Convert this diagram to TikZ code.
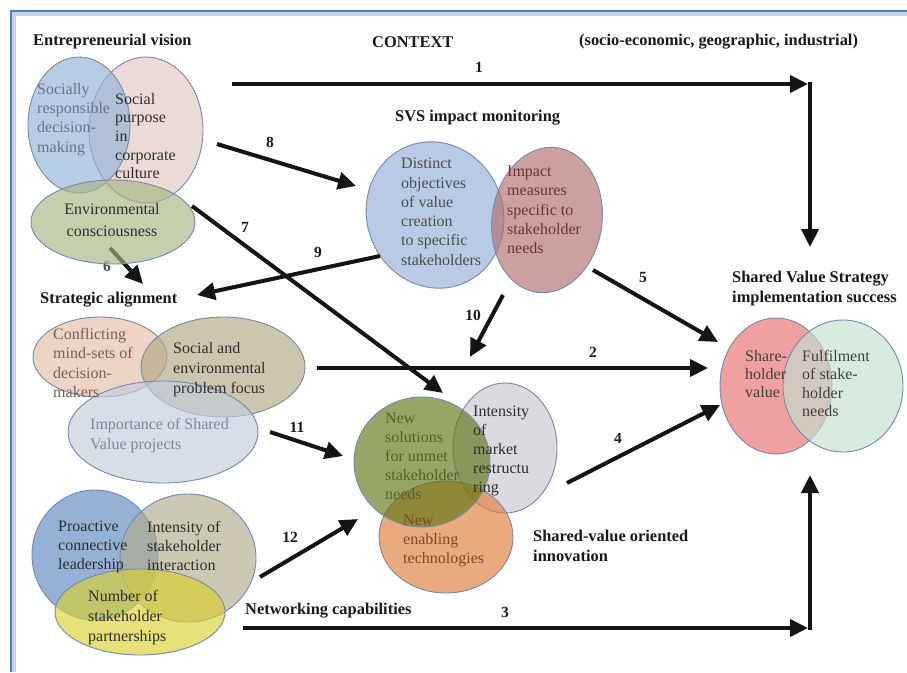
\documentclass[tikz,border=0pt]{standalone}
\usepackage{fontspec}
\setmainfont{Liberation Serif}
\usetikzlibrary{shapes.geometric,arrows.meta}

% frame
\definecolor{framedark}{HTML}{4F7DB8}
\definecolor{framelight}{HTML}{C3D6EC}
% ellipse outline
\definecolor{vennline}{HTML}{7489AC}
% ellipse fills (used with fill opacity)
\definecolor{evblue}{HTML}{92B2D6}
\definecolor{evpink}{HTML}{E2C6C0}
\definecolor{evgreen}{HTML}{A6B683}
\definecolor{svsblue}{HTML}{94AFD6}
\definecolor{svsrose}{HTML}{B26D6D}
\definecolor{sapeach}{HTML}{E5BDA5}
\definecolor{satan}{HTML}{B2A884}
\definecolor{sagrey}{HTML}{C2CDDC}
\definecolor{svred}{HTML}{E86D6D}
\definecolor{svmint}{HTML}{C2E1CD}
\definecolor{inolive}{HTML}{5F7514}
\definecolor{ingrey}{HTML}{C6C6D0}
\definecolor{inorange}{HTML}{E17D37}
\definecolor{ncblue}{HTML}{5C88C0}
\definecolor{nctan}{HTML}{B2AA8C}
\definecolor{ncyellow}{HTML}{D9D130}
% text colours
\definecolor{txtdark}{HTML}{2E2E2E}
\definecolor{txtgreyblue}{HTML}{6B7385}
\definecolor{txtbrown}{HTML}{7A6055}
\definecolor{txtgrey}{HTML}{7C8898}
\definecolor{txtrose}{HTML}{6A3535}
\definecolor{txtolive}{HTML}{56602A}
\definecolor{txtrust}{HTML}{7A4A25}

\begin{document}
\begin{tikzpicture}[x=1pt,y=-1pt,
  venn/.style={ellipse, draw=vennline, line width=0.9pt, fill opacity=0.65, inner sep=0pt},
  body/.style={font=\fontsize{16}{19.3}\selectfont, align=left, anchor=north west, inner sep=0pt, text=#1},
  body/.default=txtdark,
  head/.style={font=\fontsize{16.4}{19.5}\selectfont\bfseries, align=left, anchor=west, inner sep=0pt, text=black!90},
  num/.style={font=\fontsize{15.5}{18}\selectfont\bfseries, inner sep=0pt, text=black!90},
  flow/.style={line width=4pt, draw=black!92, -{Triangle[length=18pt,width=17pt]}},
]
\useasboundingbox (0,0) rectangle (907,672);

% window frame on top and left
\draw[framelight, line width=6pt] (907,13) -- (13,13) -- (13,672);
\draw[framedark, line width=2.6pt] (907,11) -- (11,11) -- (11,672);

% link 6 starts inside the environmental ellipse, so it goes underneath
\coordinate (a6s) at (110,248);
\coordinate (a6e) at (143,284);
\draw[flow] (a6s) -- (a6e);
\node[num, text=black!70] (n6) at (107,266) {6};

% ---------- Entrepreneurial vision ----------
\node[venn, fill=evpink, minimum width=114pt, minimum height=146pt] (ev2) at (146,130) {};
\node[venn, fill=evblue, minimum width=102pt, minimum height=136pt] (ev1) at (79,125) {};
\node[venn, fill=evgreen, minimum width=164pt, minimum height=84pt] (ev3) at (113,222) {};
\node[body=txtgreyblue] (t-ev1) at (37,83) {Socially\\responsible\\decision-\\making};
\node[body, font=\fontsize{16}{18.6}\selectfont] (t-ev2) at (115,93) {Social\\purpose\\in\\corporate\\culture};
\node[body, align=center, anchor=north, font=\fontsize{16}{22}\selectfont] (t-ev3) at (112,203) {Environmental\\consciousness};

% ---------- SVS impact monitoring ----------
\node[venn, fill=svsblue, minimum width=136pt, minimum height=148pt, rotate=22] (svs1) at (435,215) {};
\node[venn, fill=svsrose, minimum width=110pt, minimum height=146pt, rotate=-8] (svs2) at (547,220) {};
\node[body=black!70] (t-svs1) at (401,158) {Distinct\\objectives\\of value\\creation\\to specific\\stakeholders};
\node[body=txtrose] (t-svs2) at (507,166) {Impact\\measures\\specific to\\stakeholder\\needs};

% ---------- Strategic alignment ----------
\node[venn, fill=sapeach, minimum width=134pt, minimum height=80pt] (sa1) at (100,357) {};
\node[venn, fill=satan, minimum width=164pt, minimum height=100pt] (sa2) at (223,367) {};
\node[venn, fill=sagrey, minimum width=190pt, minimum height=102pt] (sa3) at (163,432) {};
\node[body=txtbrown] (t-sa1) at (53,328) {Conflicting\\mind-sets of\\decision-\\makers};
\node[body, font=\fontsize{16}{20}\selectfont] (t-sa2) at (173,342) {Social and\\environmental\\problem focus};
\node[body=txtgrey, font=\fontsize{16}{20}\selectfont] (t-sa3) at (90,418) {Importance of Shared\\Value projects};

% ---------- Shared Value Strategy implementation success ----------
\node[venn, fill=svred, minimum width=112pt, minimum height=136pt] (sv1) at (776,386) {};
\node[venn, fill=svmint, minimum width=120pt, minimum height=132pt] (sv2) at (843,386) {};
\node[body=black!75, font=\fontsize{16}{18.2}\selectfont] (t-sv1) at (745,350) {Share-\\holder\\value};
\node[body=black!75, font=\fontsize{16}{18.5}\selectfont] (t-sv2) at (802,350) {Fulfilment\\of stake-\\holder\\needs};

% ---------- Shared-value oriented innovation ----------
\node[venn, fill=ingrey, minimum width=104pt, minimum height=130pt] (in2) at (505,448) {};
\node[venn, fill=inorange, minimum width=134pt, minimum height=112pt] (in3) at (446,537) {};
\node[venn, fill=inolive, minimum width=136pt, minimum height=130pt] (in1) at (422,462) {};
\node[body=txtolive, font=\fontsize{16}{19}\selectfont] (t-in1) at (385,413) {New\\solutions\\for unmet\\stakeholder\\needs};
\node[body, font=\fontsize{16}{19}\selectfont] (t-in2) at (473,406) {Intensity\\of\\market\\restructu\\ring};
\node[body=txtrust, font=\fontsize{16}{19}\selectfont] (t-in3) at (403,515) {New\\enabling\\technologies};

% ---------- Networking capabilities ----------
\node[venn, fill=ncblue, minimum width=126pt, minimum height=130pt] (nc1) at (95,555) {};
\node[venn, fill=nctan, minimum width=136pt, minimum height=128pt] (nc2) at (188,558) {};
\node[venn, fill=ncyellow, minimum width=170pt, minimum height=86pt] (nc3) at (140,612) {};
\node[body, font=\fontsize{16}{19}\selectfont] (t-nc1) at (58,521) {Proactive\\connective\\leadership};
\node[body, font=\fontsize{16}{19}\selectfont] (t-nc2) at (147,521) {Intensity of\\stakeholder\\interaction};
\node[body, font=\fontsize{16}{20}\selectfont] (t-nc3) at (88,590) {Number of\\stakeholder\\partnerships};

% ---------- headings ----------
\node[head] (h-ev) at (33,42) {Entrepreneurial vision};
\node[head] (h-ctx) at (372,42) {CONTEXT};
\node[head] (h-ctx2) at (579,42) {(socio-economic, geographic, industrial)};
\node[head] (h-svs) at (395,118) {SVS impact monitoring};
\node[head] (h-sa) at (40,300) {Strategic alignment};
\node[head, anchor=north west] (h-sv) at (732,271) {Shared Value Strategy\\implementation success};
\node[head, anchor=north west, font=\fontsize{16.4}{20}\selectfont\bfseries] (h-in) at (533,530) {Shared-value oriented\\innovation};
\node[head] (h-nc) at (245,611) {Networking capabilities};

% ---------- links ----------
\coordinate (a1s) at (232,84);
\coordinate (a1c) at (808,84);
\coordinate (a1t) at (810,82);
\coordinate (a1e) at (810,247);
\draw[flow] (a1s) -- (a1c);
\draw[flow] (a1t) -- (a1e);
\node[num] (n1) at (479,67) {1};

\coordinate (a2s) at (317,368);
\coordinate (a2e) at (708,368);
\draw[flow] (a2s) -- (a2e);
\node[num] (n2) at (593,352) {2};

\coordinate (a3s) at (243,628);
\coordinate (a3c) at (808,628);
\coordinate (a3t) at (810,630);
\coordinate (a3e) at (810,475);
\draw[flow] (a3s) -- (a3c);
\draw[flow] (a3t) -- (a3e);
\node[num] (n3) at (505,612) {3};

\coordinate (a4s) at (567,483);
\coordinate (a4e) at (720,405);
\draw[flow] (a4s) -- (a4e);
\node[num] (n4) at (618,438) {4};

\coordinate (a5s) at (593,270);
\coordinate (a5e) at (718,342);
\draw[flow] (a5s) -- (a5e);
\node[num] (n5) at (643,277) {5};

\coordinate (a7s) at (192,206);
\coordinate (a7e) at (443,393);
\draw[flow] (a7s) -- (a7e);
\node[num] (n7) at (245,227) {7};

\coordinate (a8s) at (217,144);
\coordinate (a8e) at (356,186);
\draw[flow] (a8s) -- (a8e);
\node[num] (n8) at (270,142) {8};

\coordinate (a9s) at (380,256);
\coordinate (a9e) at (197,295);
\draw[flow] (a9s) -- (a9e);
\node[num] (n9) at (318,252) {9};

\coordinate (a10s) at (503,295);
\coordinate (a10e) at (470,357);
\draw[flow] (a10s) -- (a10e);
\node[num] (n10) at (473,315) {10};

\coordinate (a11s) at (270,432);
\coordinate (a11e) at (343,456);
\draw[flow] (a11s) -- (a11e);
\node[num] (n11) at (297,427) {11};

\coordinate (a12s) at (260,577);
\coordinate (a12e) at (358,519);
\draw[flow] (a12s) -- (a12e);
\node[num] (n12) at (290,537) {12};
\end{tikzpicture}
\end{document}
